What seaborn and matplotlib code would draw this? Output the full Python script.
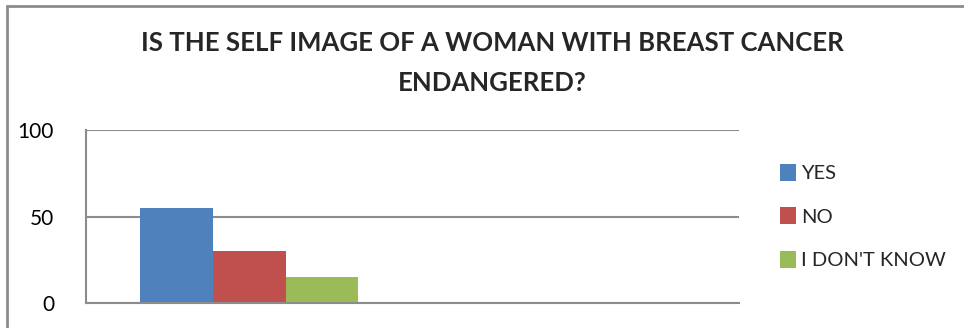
import matplotlib
matplotlib.use("Agg")
import matplotlib.pyplot as plt
import seaborn as sns
import pandas as pd
from matplotlib.patches import Patch
from matplotlib.lines import Line2D

# ---- data ----
categories = ["Q"]
answers = ["YES", "NO", "I DON'T KNOW"]
values = [55, 30, 15]
title = "IS THE SELF IMAGE OF A WOMAN WITH BREAST CANCER\nENDANGERED?"
yticks = [0, 50, 100]
colors = ["#4F81BD", "#C0504D", "#9BBB59"]

df = pd.DataFrame({"category": categories * len(answers),
                   "answer": answers, "value": values})

sns.set_style("white")
plt.rcParams["font.family"] = ["Lato", "DejaVu Sans"]

W, H = 964, 328
fig = plt.figure(figsize=(W / 100, H / 100), dpi=100)
ax = fig.add_axes([86 / W, (H - 303.3) / H, (739 - 86) / W, (303.3 - 130) / H])

sns.barplot(data=df, x="category", y="value", hue="answer", hue_order=answers,
            palette=colors, width=0.667, gap=0, saturation=1, ax=ax,
            legend=False, linewidth=0, errorbar=None)

ax.set_xlim(-0.5, 1.5)
ax.set_ylim(0, 100)
ax.set_yticks(yticks)
ax.set_xticks([])
ax.set_xlabel("")
ax.set_ylabel("")
ax.tick_params(axis="y", length=0, pad=23, labelsize=15, labelcolor="black")
ax.yaxis.grid(True, color="#8C8C8C", linewidth=1.5)
ax.set_axisbelow(True)
for s in ["top", "right"]:
    ax.spines[s].set_visible(False)
for s in ["left", "bottom"]:
    ax.spines[s].set_color("#8C8C8C")
    ax.spines[s].set_linewidth(1.5)

fig.text(492.5 / W, 1 - 62.7 / H, title, ha="center", va="center",
         fontsize=18.5, fontweight="bold", linespacing=1.79)

handles = [Patch(facecolor=c, edgecolor="none") for c in colors]
fig.legend(handles, answers, loc="center left",
           bbox_to_anchor=(770 / W, 1 - 216.5 / H), frameon=False,
           fontsize=14.5, handlelength=0.78, handleheight=0.9,
           handletextpad=0.28, labelspacing=1.25, borderpad=0)

# outer chart border (top and left visible)
fig.add_artist(Line2D([7 / W, 7 / W], [0, 1 - 6 / H], transform=fig.transFigure,
                      color="#8C8C8C", linewidth=2))
fig.add_artist(Line2D([7 / W, 1], [1 - 6 / H, 1 - 6 / H], transform=fig.transFigure,
                      color="#8C8C8C", linewidth=2))

fig.savefig("out.png", dpi=100)
